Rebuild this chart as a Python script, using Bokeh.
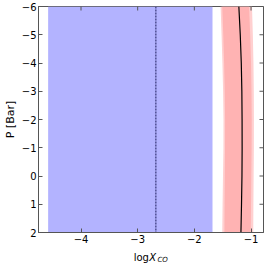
import math
from bokeh.plotting import figure
from bokeh.layouts import column
from bokeh.models import Range1d, FixedTicker
from bokeh.core.properties import value
from bokeh.embed import file_html
from bokeh.resources import INLINE

# ---- data ----
pressure = [-6, -5, -4, -3, -2, -1, 0, 1, 2]
blue_lo = -4.58
blue_hi = -1.68
blue_mid = -2.68
best_fit = [-1.215, -1.19, -1.172, -1.162, -1.158, -1.157, -1.16, -1.168, -1.178]
outer_left = [-1.537, -1.52, -1.505, -1.493, -1.486, -1.487, -1.495, -1.502, -1.508]
inner_left = [-1.508, -1.49, -1.475, -1.464, -1.458, -1.459, -1.463, -1.467, -1.47]
inner_right = [-1.034, -1.015, -1.0, -0.992, -0.988, -0.99, -0.995, -1.0, -1.005]
outer_right = [-0.983, -0.968, -0.957, -0.951, -0.949, -0.95, -0.954, -0.958, -0.961]
x_ticks = [-4, -3, -2, -1]
y_ticks = [-6, -5, -4, -3, -2, -1, 0, 1, 2]
x_lo, x_hi = -4.75, -0.78
y_bottom, y_top = 2, -6
x_label_parts = ["log", "X", "CO"]
x_label_pos = [-3.07, -2.796, -2.652]

FONT = "DejaVu Sans"
FRAME_COL = "#555555"
W = 265
H1 = 245
H2 = 263 - H1

xr = Range1d(x_lo, x_hi)
p = figure(width=W, height=H1, output_backend="svg", toolbar_location=None,
           x_range=xr, y_range=Range1d(y_bottom, y_top),
           min_border_left=20, min_border_right=2, min_border_top=6, min_border_bottom=12)
p.title.visible = False
p.grid.visible = False
p.outline_line_color = FRAME_COL
p.background_fill_color = "white"
p.border_fill_color = "white"

# blue band
p.harea(x1=[blue_lo, blue_lo], x2=[blue_hi, blue_hi], y=[y_top, y_bottom],
        fill_color="#b3b3ff", fill_alpha=1.0)
p.line(x=[blue_mid, blue_mid], y=[y_top, y_bottom], line_color="#55559a",
       line_width=1.6, line_dash="2 1")

# red bands
p.harea(x1=outer_left, x2=outer_right, y=pressure, fill_color="#ffd0d0")
p.harea(x1=inner_left, x2=inner_right, y=pressure, fill_color="#ffb3b3")
p.line(x=best_fit, y=pressure, line_color="black", line_width=1.2)

# top/right inward ticks (clipped to frame, half visible)
p.scatter(x=x_ticks, y=[y_top] * len(x_ticks), marker="dash", angle=math.pi / 2,
          size=8, line_color=FRAME_COL, line_width=1)
p.scatter(x=[x_hi] * len(y_ticks), y=y_ticks, marker="dash",
          size=8, line_color=FRAME_COL, line_width=1)

def style(ax):
    ax.axis_line_color = FRAME_COL
    ax.major_tick_line_color = FRAME_COL
    ax.major_tick_in = 4
    ax.major_tick_out = 0
    ax.minor_tick_line_color = None
    ax.major_label_text_font = FONT
    ax.major_label_text_color = "black"
    ax.major_label_text_font_size = "10px"
    ax.major_label_standoff = 2

def minus(t):
    return "\u2212%d" % -t if t < 0 else str(t)

xa = p.xaxis[0]
xa.ticker = FixedTicker(ticks=x_ticks)
xa.major_label_overrides = {t: minus(t) for t in x_ticks}
style(xa)

ya = p.yaxis[0]
ya.ticker = FixedTicker(ticks=y_ticks)
ya.major_label_overrides = {t: minus(t) for t in y_ticks}
style(ya)
ya.axis_label = "P [Bar]"
ya.axis_label_text_font = FONT
ya.axis_label_text_font_size = "11px"
ya.axis_label_text_font_style = "normal"
ya.axis_label_text_color = "black"
ya.axis_label_standoff = 2

# x-axis label strip: log X_CO (mixed styles), shares the x range of the plot
q = figure(width=W, height=H2, output_backend="svg", toolbar_location=None,
           x_axis_location=None, y_axis_location=None,
           x_range=xr, y_range=Range1d(0, H2),
           min_border=0, min_border_left=0, min_border_right=0,
           min_border_top=0, min_border_bottom=0)
q.title.visible = False
q.grid.visible = False
q.outline_line_color = None
q.background_fill_color = "white"
q.border_fill_color = "white"
q.text(x=[x_label_pos[0]], y=[6], text=[x_label_parts[0]], text_font=value(FONT),
       text_font_size="10px", text_baseline="alphabetic", text_color="black")
q.text(x=[x_label_pos[1]], y=[6], text=[x_label_parts[1]], text_font=value(FONT),
       text_font_size="10px", text_font_style="italic", text_baseline="alphabetic",
       text_color="black")
q.text(x=[x_label_pos[2]], y=[4], text=[x_label_parts[2]], text_font=value(FONT),
       text_font_size="7px", text_font_style="italic", text_baseline="alphabetic",
       text_color="black")

layout = column(p, q, spacing=0)
open("out.html", "w").write(file_html(layout, INLINE))
